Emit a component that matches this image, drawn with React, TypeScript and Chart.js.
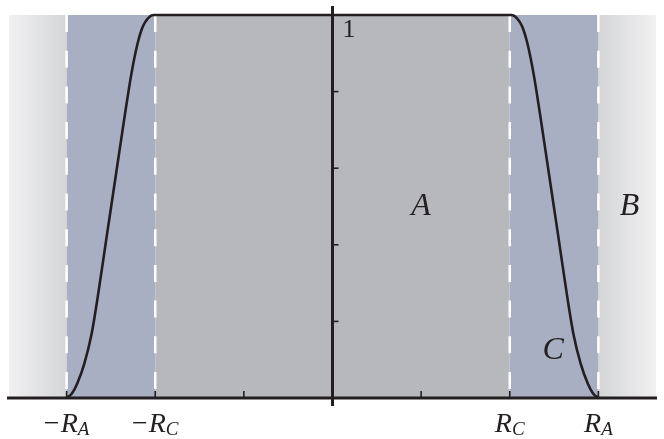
import React, { useEffect, useRef } from "react";
import { Chart, registerables } from "chart.js";

Chart.register(...registerables);

// Curve samples (x in units of the tick spacing, y in [0,1])
const curveX = [-3, -2.94, -2.88, -2.8, -2.72, -2.65, -2.55, -2.45, -2.35, -2.27, -2.2, -2.14, -2.08, -2.02, 2.02, 2.08, 2.14, 2.2, 2.27, 2.35, 2.45, 2.55, 2.65, 2.72, 2.8, 2.88, 2.94, 3];
const curveY = [0, 0.012, 0.038, 0.09, 0.165, 0.262, 0.418, 0.573, 0.728, 0.845, 0.925, 0.97, 0.992, 1, 1, 0.992, 0.97, 0.925, 0.845, 0.728, 0.573, 0.418, 0.262, 0.165, 0.09, 0.038, 0.012, 0];

const xMin = -3.65;
const xMax = 3.65;
const RC = 2;
const RA = 3;

const xTickValues = [-3, -2, -1, 1, 2, 3];
const yTickValues = [0.2, 0.4, 0.6, 0.8];
const dashedX = [-RA, -RC, RC, RA];

const tickLabelX = [-3, -2, 2, 3];
const tickLabelSign = ["−", "−", "", ""];
const tickLabelMain = ["R", "R", "R", "R"];
const tickLabelSub = ["A", "C", "C", "A"];

const regionLabels = ["A", "B", "C"];
const regionLabelX = [1.0, 3.35, 2.49];
const regionLabelY = [0.5, 0.5, 0.125];

const INK = "#231f20";
const SERIF = '"Liberation Serif", "Times New Roman", serif';

const decorPlugin = {
  id: "decor",
  beforeDatasetsDraw(chart: any) {
    const { ctx, scales } = chart;
    const xs = scales.x;
    const ys = scales.y;
    const px = (v: number) => xs.getPixelForValue(v);
    const py = (v: number) => ys.getPixelForValue(v);
    const top = py(1);
    const bot = py(0);
    ctx.save();
    const gl = ctx.createLinearGradient(px(xMin), 0, px(-RA), 0);
    gl.addColorStop(0, "#f1f1f2");
    gl.addColorStop(1, "#d4d5d7");
    ctx.fillStyle = gl;
    ctx.fillRect(px(xMin), top, px(-RA) - px(xMin), bot - top);
    const gr = ctx.createLinearGradient(px(RA), 0, px(xMax), 0);
    gr.addColorStop(0, "#d4d5d7");
    gr.addColorStop(1, "#f1f1f2");
    ctx.fillStyle = gr;
    ctx.fillRect(px(RA), top, px(xMax) - px(RA), bot - top);
    ctx.fillStyle = "#a8afc3";
    ctx.fillRect(px(-RA), top, px(-RC) - px(-RA), bot - top);
    ctx.fillRect(px(RC), top, px(RA) - px(RC), bot - top);
    ctx.fillStyle = "#b7b8bb";
    ctx.fillRect(px(-RC), top, px(RC) - px(-RC), bot - top);
    ctx.strokeStyle = "#ffffff";
    ctx.lineWidth = 2.5;
    ctx.setLineDash([17, 18.7]);
    dashedX.forEach((v) => {
      ctx.beginPath();
      ctx.moveTo(px(v), top);
      ctx.lineTo(px(v), bot);
      ctx.stroke();
    });
    ctx.setLineDash([]);
    ctx.restore();
  },
  afterDatasetsDraw(chart: any) {
    const { ctx, scales } = chart;
    const xs = scales.x;
    const ys = scales.y;
    const px = (v: number) => xs.getPixelForValue(v);
    const py = (v: number) => ys.getPixelForValue(v);
    const x0 = px(0);
    const y0 = py(0);
    ctx.save();
    ctx.strokeStyle = INK;
    ctx.lineWidth = 3;
    ctx.beginPath();
    ctx.moveTo(7, y0);
    ctx.lineTo(657, y0);
    ctx.stroke();
    ctx.beginPath();
    ctx.moveTo(x0, py(1) - 9);
    ctx.lineTo(x0, y0 + 8);
    ctx.stroke();
    ctx.lineWidth = 1.6;
    xTickValues.forEach((v) => {
      ctx.beginPath();
      ctx.moveTo(px(v), y0);
      ctx.lineTo(px(v), y0 - 7);
      ctx.stroke();
    });
    yTickValues.forEach((v) => {
      ctx.beginPath();
      ctx.moveTo(x0, py(v));
      ctx.lineTo(x0 + 6, py(v));
      ctx.stroke();
    });
    ctx.fillStyle = INK;
    ctx.textBaseline = "alphabetic";
    ctx.textAlign = "left";
    ctx.font = `26px ${SERIF}`;
    ctx.fillText("1", x0 + 10, py(1) + 22);
    const base = y0 + 34;
    tickLabelX.forEach((v, i) => {
      const sign = tickLabelSign[i];
      const main = tickLabelMain[i];
      const sub = tickLabelSub[i];
      ctx.font = `28px ${SERIF}`;
      const wSign = sign ? ctx.measureText(sign).width + 1 : 0;
      ctx.font = `italic 28px ${SERIF}`;
      const wMain = ctx.measureText(main).width;
      ctx.font = `italic 19px ${SERIF}`;
      const wSub = ctx.measureText(sub).width;
      let x = px(v) - (wSign + wMain + wSub) / 2;
      if (sign) {
        ctx.font = `28px ${SERIF}`;
        ctx.fillText(sign, x, base);
        x += wSign;
      }
      ctx.font = `italic 28px ${SERIF}`;
      ctx.fillText(main, x, base);
      x += wMain;
      ctx.font = `italic 19px ${SERIF}`;
      ctx.fillText(sub, x, base + 3);
    });
    ctx.textAlign = "center";
    ctx.textBaseline = "middle";
    ctx.font = `italic 32px ${SERIF}`;
    regionLabels.forEach((t, i) => {
      ctx.fillText(t, px(regionLabelX[i]), py(regionLabelY[i]));
    });
    ctx.restore();
  },
};

export default function App() {
  const ref = useRef<HTMLCanvasElement | null>(null);
  useEffect(() => {
    if (!ref.current) return;
    const data = curveX.map((x, i) => ({ x, y: curveY[i] }));
    const chart = new Chart(ref.current, {
      type: "scatter",
      data: {
        datasets: [
          {
            data,
            showLine: true,
            borderColor: INK,
            borderWidth: 2.6,
            pointRadius: 0,
            cubicInterpolationMode: "monotone",
            clip: false,
          } as any,
        ],
      },
      options: {
        responsive: false,
        animation: false,
        layout: { padding: { left: 9, right: 8, top: 15, bottom: 41 } },
        plugins: { legend: { display: false }, tooltip: { enabled: false } },
        scales: {
          x: { type: "linear", min: xMin, max: xMax, display: false },
          y: { type: "linear", min: 0, max: 1, display: false },
        },
      },
      plugins: [decorPlugin],
    });
    return () => chart.destroy();
  }, []);
  return (
    <div style={{ position: "fixed", left: 0, top: 0, width: 664, height: 439, background: "#fff" }}>
      <canvas ref={ref} width={664} height={439} style={{ display: "block" }} />
    </div>
  );
}
